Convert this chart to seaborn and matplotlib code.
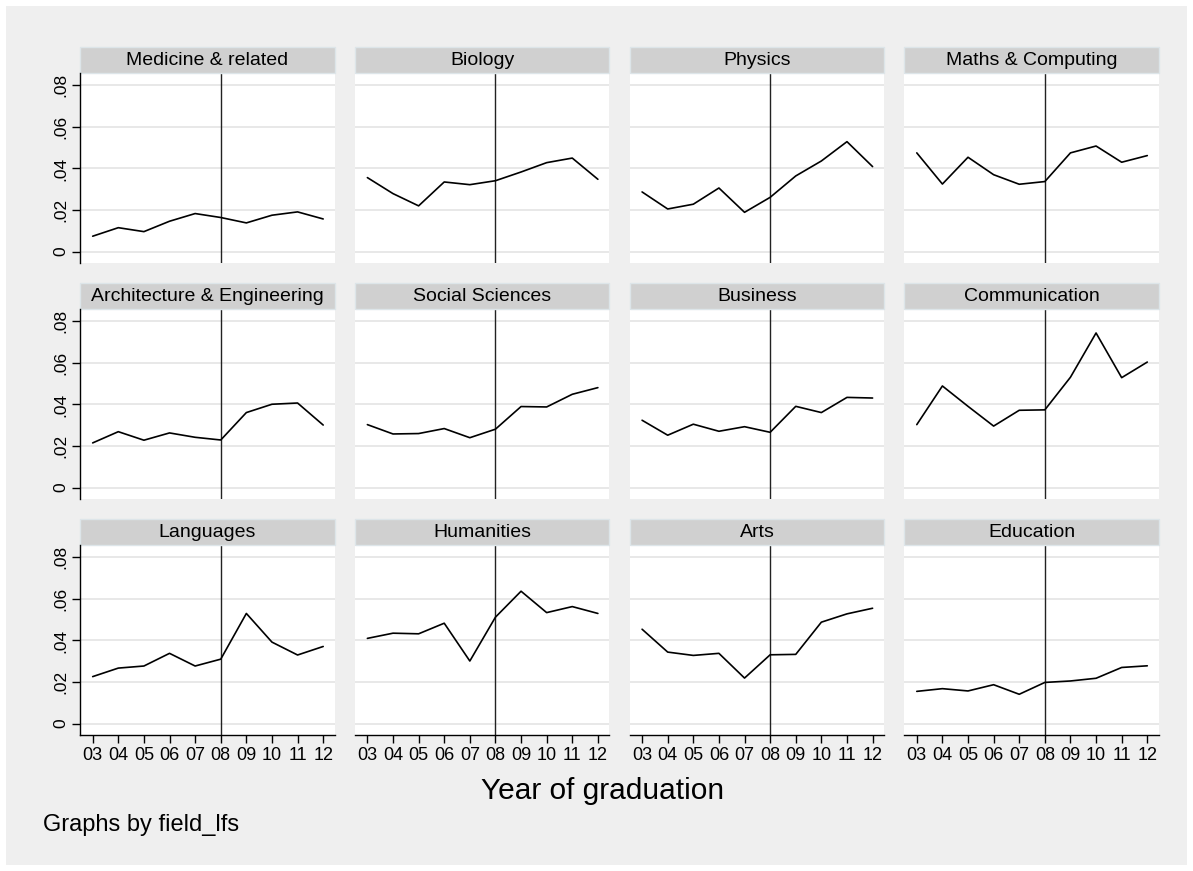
"""
Facetted line chart: share of graduates by field and year of graduation.
Saves out.png
"""
import numpy as np
import pandas as pd
import matplotlib
matplotlib.use('Agg')
import matplotlib.pyplot as plt
from matplotlib.patches import Rectangle
import seaborn as sns

# ---- data ----
years = [3, 4, 5, 6, 7, 8, 9, 10, 11, 12]
year_labels = ['03', '04', '05', '06', '07', '08', '09', '10', '11', '12']

fields = ['Medicine & related', 'Biology', 'Physics', 'Maths & Computing',
          'Architecture & Engineering', 'Social Sciences', 'Business', 'Communication',
          'Languages', 'Humanities', 'Arts', 'Education']

medicine = [0.0074, 0.0115, 0.0096, 0.0146, 0.0183, 0.0164, 0.0138, 0.0175, 0.0191, 0.0157]
biology = [0.0356, 0.0279, 0.0220, 0.0335, 0.0322, 0.0341, 0.0383, 0.0428, 0.0450, 0.0348]
physics = [0.0287, 0.0205, 0.0228, 0.0306, 0.0189, 0.0261, 0.0364, 0.0436, 0.0529, 0.0409]
maths = [0.0475, 0.0325, 0.0454, 0.0370, 0.0324, 0.0337, 0.0475, 0.0508, 0.0430, 0.0462]
architecture = [0.0215, 0.0269, 0.0228, 0.0263, 0.0242, 0.0229, 0.0361, 0.0401, 0.0407, 0.0301]
social = [0.0303, 0.0258, 0.0260, 0.0284, 0.0240, 0.0281, 0.0390, 0.0388, 0.0449, 0.0481]
business = [0.0324, 0.0252, 0.0305, 0.0271, 0.0293, 0.0266, 0.0391, 0.0361, 0.0434, 0.0431]
communication = [0.0303, 0.0489, 0.0391, 0.0296, 0.0372, 0.0374, 0.0531, 0.0744, 0.0529, 0.0604]
languages = [0.0226, 0.0267, 0.0277, 0.0338, 0.0277, 0.0310, 0.0530, 0.0392, 0.0330, 0.0371]
humanities = [0.0410, 0.0435, 0.0432, 0.0483, 0.0301, 0.0512, 0.0637, 0.0534, 0.0563, 0.0530]
arts = [0.0454, 0.0344, 0.0328, 0.0338, 0.0219, 0.0331, 0.0333, 0.0488, 0.0528, 0.0555]
education = [0.0155, 0.0168, 0.0157, 0.0187, 0.0141, 0.0198, 0.0205, 0.0218, 0.0270, 0.0278]

series = [medicine, biology, physics, maths, architecture, social,
          business, communication, languages, humanities, arts, education]

y_ticks = [0, 0.02, 0.04, 0.06, 0.08]
y_tick_labels = ['0', '.02', '.04', '.06', '.08']

W, H = 1193, 871
PLOT_H = 189.7
STRIP_H = 26


def main():
    df = pd.DataFrame({
        'field': np.repeat(fields, len(years)),
        'year': years * len(fields),
        'share': np.concatenate(series),
    })

    sns.set_style('white')
    plt.rcParams['font.family'] = ['Liberation Sans', 'DejaVu Sans']
    plt.rcParams['text.color'] = 'black'
    plt.rcParams['xtick.color'] = 'black'
    plt.rcParams['ytick.color'] = 'black'
    plt.rcParams['axes.labelcolor'] = 'black'

    g = sns.relplot(data=df, x='year', y='share', col='field', col_order=fields,
                    col_wrap=4, kind='line', color='black', linewidth=1.2,
                    height=2, aspect=1.3, facet_kws={'sharex': True, 'sharey': True})
    fig = g.figure
    fig.set_size_inches(W / 100, H / 100)
    fig.subplots_adjust(left=80.4 / W, right=1158.8 / W,
                        top=1 - 73.3 / H, bottom=1 - 735 / H,
                        wspace=0.0802, hspace=0.244)
    fig.patch.set_facecolor('white')
    fig.add_artist(Rectangle((6 / W, 6 / H), 1181 / W, 859 / H, transform=fig.transFigure,
                             facecolor='#efefef', edgecolor='none', zorder=-10))
    g.set_axis_labels('', '')
    g.set_titles('')

    for i, (ax, name) in enumerate(zip(g.axes.flat, fields)):
        row, col = divmod(i, 4)
        ax.set_facecolor('white')
        ax.set_xlim(2.52, 12.45)
        ax.set_ylim(-0.0055, 0.0858)
        ax.set_yticks(y_ticks)
        ax.set_xticks(years)
        ax.grid(axis='y', color='#e6e6e6', linewidth=1.3)
        ax.grid(axis='x', visible=False)
        ax.axvline(8, color='#222222', linewidth=1.0, zorder=1)
        for s in ax.spines.values():
            s.set_visible(False)

        if col == 0:
            ax.spines['left'].set_visible(True)
            ax.spines['left'].set_color('black')
            ax.spines['left'].set_linewidth(1.0)
            ax.set_yticklabels(y_tick_labels)
            ax.tick_params(axis='y', left=True, labelleft=True, length=6, width=1,
                           color='black', labelcolor='black', labelsize=12.5, pad=3)
            for lab in ax.get_yticklabels():
                lab.set_rotation(90)
                lab.set_va('center')
        else:
            ax.tick_params(axis='y', left=False, labelleft=False)

        if row == 2:
            ax.spines['bottom'].set_visible(True)
            ax.spines['bottom'].set_color('black')
            ax.spines['bottom'].set_linewidth(1.0)
            ax.set_xticklabels(year_labels)
            ax.tick_params(axis='x', bottom=True, labelbottom=True, length=6, width=1,
                           color='black', labelcolor='black', labelsize=13, pad=3)
        else:
            ax.tick_params(axis='x', bottom=False, labelbottom=False)

        # strip header
        sh = STRIP_H / PLOT_H
        ax.add_patch(Rectangle((0, 1), 1, sh, transform=ax.transAxes, clip_on=False,
                               facecolor='#d0d0d0', edgecolor='#dde5e9', linewidth=1))
        ax.text(0.5, 1 + sh / 2, name, transform=ax.transAxes, ha='center',
                va='center', fontsize=14, color='black')

    fig.text(603 / W, 1 - 799 / H, 'Year of graduation', ha='center', va='baseline',
             fontsize=21.5, color='black')
    fig.text(42.7 / W, 1 - 831 / H, 'Graphs by field_lfs', ha='left', va='baseline',
             fontsize=17, color='black')

    fig.savefig('out.png', dpi=100)
    plt.close(fig)


if __name__ == '__main__':
    main()
